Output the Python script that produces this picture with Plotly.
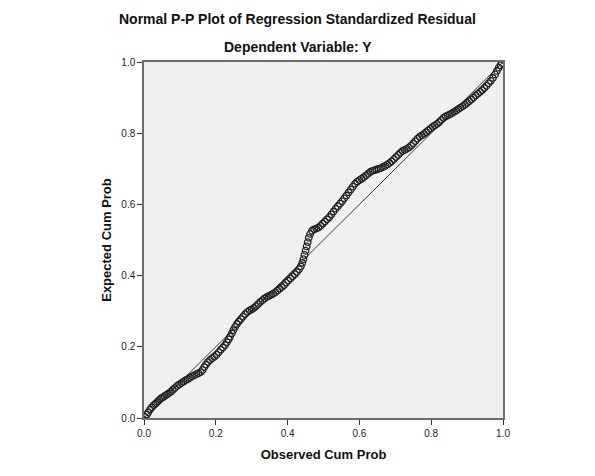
import plotly.graph_objects as go

# observed cumulative probability (x) and expected cumulative probability (y)
observed_cum_prob = [
    0.003, 0.008, 0.012, 0.017, 0.022, 0.027, 0.032, 0.037, 0.042, 0.047,
    0.053, 0.058, 0.064, 0.070, 0.075, 0.080, 0.086, 0.092, 0.098, 0.104,
    0.110, 0.116, 0.122, 0.128, 0.134, 0.140, 0.146, 0.152, 0.158, 0.163,
    0.168, 0.173, 0.178, 0.184, 0.190, 0.196, 0.202, 0.208, 0.214, 0.220,
    0.226, 0.231, 0.236, 0.240, 0.245, 0.249, 0.254, 0.259, 0.264, 0.270,
    0.276, 0.282, 0.288, 0.294, 0.300, 0.306, 0.312, 0.318, 0.324, 0.330,
    0.336, 0.342, 0.348, 0.354, 0.360, 0.366, 0.372, 0.378, 0.384, 0.390,
    0.396, 0.402, 0.408, 0.414, 0.420, 0.426, 0.432, 0.437, 0.441, 0.444,
    0.447, 0.450, 0.453, 0.456, 0.459, 0.463, 0.468, 0.474, 0.480, 0.486,
    0.492, 0.498, 0.504, 0.510, 0.516, 0.522, 0.528, 0.534, 0.540, 0.546,
    0.552, 0.558, 0.564, 0.570, 0.576, 0.582, 0.588, 0.594, 0.600, 0.606,
    0.612, 0.618, 0.624, 0.630, 0.636, 0.642, 0.648, 0.654, 0.660, 0.666,
    0.672, 0.678, 0.684, 0.690, 0.696, 0.702, 0.708, 0.714, 0.720, 0.726,
    0.732, 0.738, 0.744, 0.750, 0.756, 0.762, 0.768, 0.774, 0.780, 0.786,
    0.792, 0.798, 0.804, 0.810, 0.816, 0.822, 0.828, 0.834, 0.840, 0.846,
    0.852, 0.858, 0.864, 0.870, 0.876, 0.882, 0.888, 0.894, 0.900, 0.906,
    0.912, 0.918, 0.924, 0.930, 0.936, 0.942, 0.948, 0.954, 0.960, 0.966,
    0.972, 0.978, 0.983, 0.988, 0.993, 0.997,
]
expected_cum_prob = [
    0.003, 0.010, 0.016, 0.024, 0.030, 0.036, 0.040, 0.045, 0.050, 0.055,
    0.058, 0.062, 0.066, 0.070, 0.074, 0.079, 0.084, 0.090, 0.094, 0.098,
    0.102, 0.106, 0.109, 0.113, 0.117, 0.120, 0.123, 0.126, 0.129, 0.135,
    0.143, 0.150, 0.157, 0.163, 0.168, 0.172, 0.178, 0.185, 0.192, 0.198,
    0.205, 0.213, 0.221, 0.229, 0.238, 0.247, 0.256, 0.264, 0.271, 0.278,
    0.285, 0.292, 0.298, 0.302, 0.305, 0.309, 0.314, 0.320, 0.326, 0.331,
    0.336, 0.340, 0.343, 0.346, 0.349, 0.353, 0.358, 0.363, 0.368, 0.373,
    0.380, 0.386, 0.392, 0.398, 0.404, 0.410, 0.418, 0.426, 0.436, 0.446,
    0.458, 0.470, 0.482, 0.494, 0.506, 0.517, 0.526, 0.530, 0.532, 0.535,
    0.540, 0.546, 0.552, 0.558, 0.564, 0.572, 0.580, 0.588, 0.595, 0.602,
    0.609, 0.617, 0.625, 0.634, 0.642, 0.650, 0.658, 0.664, 0.668, 0.672,
    0.676, 0.681, 0.686, 0.691, 0.694, 0.696, 0.698, 0.700, 0.702, 0.705,
    0.708, 0.712, 0.716, 0.721, 0.727, 0.733, 0.739, 0.745, 0.750, 0.753,
    0.756, 0.760, 0.765, 0.771, 0.778, 0.785, 0.790, 0.794, 0.798, 0.803,
    0.808, 0.813, 0.818, 0.822, 0.826, 0.831, 0.837, 0.843, 0.847, 0.850,
    0.853, 0.856, 0.860, 0.864, 0.868, 0.872, 0.876, 0.880, 0.885, 0.890,
    0.895, 0.900, 0.906, 0.911, 0.916, 0.921, 0.927, 0.933, 0.940, 0.947,
    0.955, 0.965, 0.975, 0.984, 0.991, 0.997,
]
ref_line = [0.0, 1.0]
tick_vals = [0.0, 0.2, 0.4, 0.6, 0.8, 1.0]
tick_text = ['0.0', '0.2', '0.4', '0.6', '0.8', '1.0']

FONT = 'Liberation Sans, Arial, sans-serif'

fig = go.Figure()
fig.add_trace(go.Scatter(x=ref_line, y=ref_line, mode='lines',
                         line=dict(color='#3c3c3c', width=1), showlegend=False))
fig.add_trace(go.Scatter(x=observed_cum_prob, y=expected_cum_prob, mode='markers',
                         marker=dict(symbol='circle-open', size=6.5, color='#1e1e1e',
                                     line=dict(width=1.3)),
                         showlegend=False))

axis = dict(range=[0, 1], tickvals=tick_vals, ticktext=tick_text, ticks='outside',
            ticklen=5, tickcolor='#333', tickfont=dict(size=10, color='#222'),
            showline=True, linecolor='#6e6e6e', linewidth=1.5, mirror=True,
            showgrid=False, zeroline=False)

# page body has an 8px margin, so the figure is sized to fit the window
fig.update_layout(
    width=587, height=468,
    margin=dict(l=136, r=92, t=54, b=58),
    paper_bgcolor='white', plot_bgcolor='#f0f0f0',
    font=dict(family=FONT, color='#111'),
    xaxis=dict(axis, title=dict(text='<b>Observed Cum Prob</b>', font=dict(size=13), standoff=12)),
    yaxis=dict(axis, title=dict(text='<b>Expected Cum Prob</b>', font=dict(size=13), standoff=7)),
    annotations=[
        dict(text='<b>Normal P-P Plot of Regression Standardized Residual</b>',
             xref='paper', yref='paper', x=0.4276, y=1.121, showarrow=False,
             xanchor='center', yanchor='middle', font=dict(size=14)),
        dict(text='<b>Dependent Variable: Y</b>',
             xref='paper', yref='paper', x=0.4276, y=1.042, showarrow=False,
             xanchor='center', yanchor='middle', font=dict(size=14)),
    ],
)
fig.write_html('out.html')
